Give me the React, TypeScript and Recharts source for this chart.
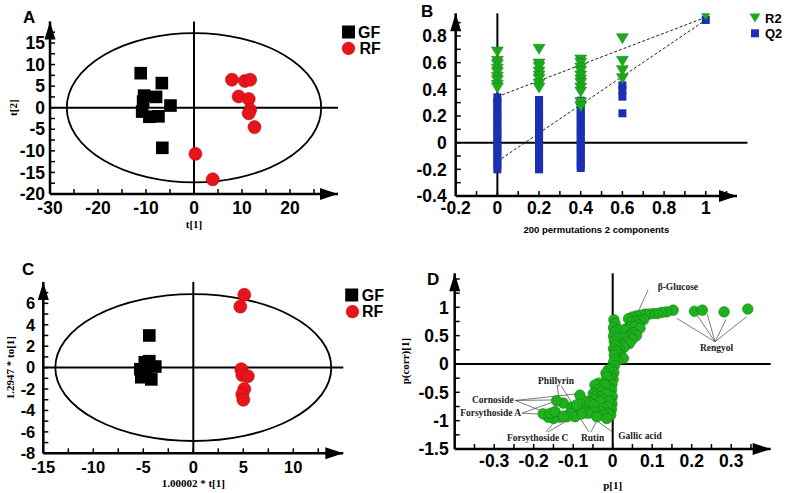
import React from "react";
import {
  ScatterChart,
  Scatter,
  XAxis,
  YAxis,
  ReferenceLine,
  ReferenceArea,
  ReferenceDot,
  Label
} from "recharts";

// ---- Panel A: PCA scores ----
const gfScoresA = [
  [-11.1, 8.0], [-6.7, 5.7], [-10.4, 2.8], [-7.9, 2.5], [-4.9, 0.5],
  [-10.6, 1.4], [-10.8, -0.9], [-9.3, -2.1], [-7.4, -2.0], [-6.6, -9.3]
];
const rfScoresA = [
  [7.9, 6.5], [10.6, 6.2], [11.7, 6.5], [9.3, 2.6], [11.4, 2.0],
  [11.7, -0.5], [11.4, -1.3], [12.6, -4.5], [0.3, -10.7], [3.9, -16.6]
];
const ellipseA = [26.5, 17.3];
const aTicksX = [-30, -25, -20, -15, -10, -5, 0, 5, 10, 15, 20, 25];
const aLabelsX = [-30, -20, -10, 0, 10, 20];
const aTicksY = [-20, -17.5, -15, -12.5, -10, -7.5, -5, -2.5, 0, 2.5, 5, 7.5, 10, 12.5, 15, 17.5];
const aLabelsY = [-20, -15, -10, -5, 0, 5, 10, 15];

// ---- Panel B: permutation test ----
const permX = [0, 0.2, 0.4, 0.6, 1];
const r2Perm = [
  [0.68, 0.61, 0.585, 0.55, 0.525, 0.49, 0.465, 0.43, 0.41],
  [0.7, 0.59, 0.565, 0.53, 0.5, 0.475, 0.44, 0.41],
  [0.62, 0.595, 0.56, 0.535, 0.5, 0.47, 0.445, 0.41, 0.38, 0.3, 0.27],
  [0.78, 0.61, 0.54, 0.48],
  [0.955]
];
const q2Perm = [
  [0.34, 0.31, 0.285, 0.25, 0.22, 0.19, 0.165, 0.13, 0.1, 0.07, 0.045, 0.01, -0.02, -0.05, -0.075, -0.11, -0.14, -0.17, -0.2],
  [0.32, 0.29, 0.265, 0.23, 0.2, 0.17, 0.145, 0.11, 0.08, 0.05, 0.025, -0.01, -0.04, -0.07, -0.095, -0.13, -0.16, -0.19, -0.2],
  [0.315, 0.29, 0.25, 0.22, 0.195, 0.16, 0.13, 0.1, 0.075, 0.04, 0.01, -0.02, -0.05, -0.075, -0.11, -0.14, -0.17, -0.19],
  [0.43, 0.395, 0.345, 0.22],
  [0.92]
];
const r2Fit = [[0, 0.345], [1, 0.94]];
const q2Fit = [[0, -0.14], [1, 0.92]];
const bTicksX = [-0.2, -0.1, 0, 0.1, 0.2, 0.3, 0.4, 0.5, 0.6, 0.7, 0.8, 0.9, 1, 1.1];
const bLabelsX = [-0.2, 0, 0.2, 0.4, 0.6, 0.8, 1];
const bTicksY = [-0.4, -0.3, -0.2, -0.1, 0, 0.1, 0.2, 0.3, 0.4, 0.5, 0.6, 0.7, 0.8, 0.9];
const bLabelsY = [-0.4, -0.2, 0, 0.2, 0.4, 0.6, 0.8];

// ---- Panel C: OPLS-DA scores ----
const gfScoresC = [
  [-4.4, 3.0], [-4.85, 0.5], [-4.4, 0.6], [-3.8, 0.1],
  [-5.3, -0.15], [-5.2, -0.9], [-4.2, -1.1], [-4.7, -0.4]
];
const rfScoresC = [
  [5.1, 6.8], [4.7, 5.7], [4.8, -0.15], [4.9, -0.7],
  [5.45, -0.8], [5.1, -2.0], [4.9, -2.5], [5.0, -3.0]
];
const ellipseC = [13.8, 6.85];
const cTicksX = [-15, -12.5, -10, -7.5, -5, -2.5, 0, 2.5, 5, 7.5, 10, 12.5];
const cLabelsX = [-15, -10, -5, 0, 5, 10];
const cTicksY = [-8, -7, -6, -5, -4, -3, -2, -1, 0, 1, 2, 3, 4, 5, 6, 7];
const cLabelsY = [-8, -6, -4, -2, 0, 2, 4, 6];

// ---- Panel D: S-plot ----
const sPlot = [
  [0.153, 0.95], [0.137, 0.92], [0.124, 0.91], [0.113, 0.89], [0.103, 0.89], [0.092, 0.88],
  [0.082, 0.88], [0.07, 0.86], [0.061, 0.85], [0.05, 0.83], [0.04, 0.8], [0.078, 0.78],
  [0.068, 0.76], [0.058, 0.74], [0.046, 0.73], [0.065, 0.69], [0.044, 0.66], [0.056, 0.66],
  [0.069, 0.63], [0.034, 0.62], [0.027, 0.6], [0.052, 0.55], [0.06, 0.5], [0.044, 0.51],
  [0.04, 0.48], [0.031, 0.45], [0.05, 0.44], [0.035, 0.39], [0.042, 0.36], [0.023, 0.34],
  [0.028, 0.29], [0.016, 0.26], [0.014, 0.2], [0.02, 0.15], [0.027, 0.1], [0.012, 0.06],
  [0.207, 0.93], [0.227, 0.95], [0.282, 0.92], [0.342, 0.97],
  [0.003, 0.78], [0.006, 0.71], [0.002, 0.64], [0.011, 0.6], [0.005, 0.56], [0.002, 0.49],
  [0.009, 0.45], [0.004, 0.4], [0.007, 0.33], [0.002, 0.27], [0.008, 0.22], [0.004, 0.16],
  [0.006, 0.09], [0.002, 0.03], [0.004, -0.03], [-0.002, -0.09], [0.003, -0.15], [-0.004, -0.21],
  [0.001, -0.27], [-0.006, -0.3], [-0.002, -0.36], [-0.007, -0.42], [-0.003, -0.46], [-0.005, -0.54],
  [-0.001, -0.58], [-0.006, -0.64], [-0.002, -0.7], [-0.007, -0.76], [-0.003, -0.8], [-0.008, -0.86],
  [-0.005, -0.9],
  [-0.011, -0.1], [-0.017, -0.16], [-0.015, -0.22], [-0.02, -0.34], [-0.036, -0.34], [-0.02, -0.37],
  [-0.045, -0.37], [-0.036, -0.45], [-0.028, -0.49], [-0.049, -0.52], [-0.015, -0.52], [-0.032, -0.58],
  [-0.047, -0.58], [-0.045, -0.63], [-0.024, -0.63], [-0.011, -0.66], [-0.032, -0.66], [-0.066, -0.66],
  [-0.057, -0.69], [-0.049, -0.72], [-0.015, -0.75], [-0.024, -0.78], [-0.074, -0.81], [-0.095, -0.81],
  [-0.028, -0.84], [-0.049, -0.84], [-0.078, -0.84], [-0.012, -0.87], [-0.024, -0.9], [-0.062, -0.87],
  [-0.04, -0.93], [-0.015, -0.96], [-0.083, -0.55], [-0.104, -0.76], [-0.091, -0.72], [-0.108, -0.87],
  [-0.095, -0.93], [-0.116, -0.93], [-0.125, -0.69], [-0.142, -0.65], [-0.133, -0.94], [-0.15, -0.96],
  [-0.163, -0.94], [-0.176, -0.88], [-0.158, -0.87], [-0.146, -0.84], [-0.125, -0.92], [-0.078, -0.88]
];
const dLabels = [
  { text: "β-Glucose", x: 0.165, y: 1.364 },
  { text: "Rengyol", x: 0.263, y: 0.277 },
  { text: "Phillyrin", x: -0.1435, y: -0.3 },
  { text: "Cornoside", x: -0.3035, y: -0.635 },
  { text: "Forsythoside A", x: -0.309, y: -0.87 },
  { text: "Forsythoside C", x: -0.19, y: -1.31 },
  { text: "Rutin", x: -0.051, y: -1.31 },
  { text: "Gallic acid", x: 0.069, y: -1.27 }
];
// leader lines: x1, y1, x2, y2
const dLeaders = [
  [0.0894, 1.306, 0.0666, 0.953],
  [0.259, 0.393, 0.162, 0.806],
  [0.259, 0.393, 0.215, 0.847],
  [0.259, 0.393, 0.2395, 0.877],
  [0.259, 0.393, 0.287, 0.789],
  [0.259, 0.393, 0.339, 0.834],
  [-0.247, -0.644, -0.093, -0.529],
  [-0.247, -0.644, -0.151, -0.635],
  [-0.247, -0.644, -0.166, -0.865],
  [-0.2296, -0.868, -0.151, -0.67],
  [-0.2296, -0.868, -0.189, -0.882],
  [-0.1405, -0.388, -0.1355, -0.635],
  [-0.1305, -0.388, -0.098, -0.741],
  [-0.169, -1.2, -0.1435, -0.988],
  [-0.164, -1.2, -0.108, -0.97],
  [-0.06, -1.2, -0.083, -0.953],
  [-0.055, -1.2, -0.037, -0.953],
  [0.003, -1.217, -0.09, -0.759]
];
const dTicksX = [-0.35, -0.3, -0.25, -0.2, -0.15, -0.1, -0.05, 0, 0.05, 0.1, 0.15, 0.2, 0.25, 0.3, 0.35];
const dLabelsX = [-0.3, -0.2, -0.1, 0, 0.1, 0.2, 0.3];
const dTicksY = [-1.5, -1.25, -1, -0.75, -0.5, -0.25, 0, 0.25, 0.5, 0.75, 1, 1.25, 1.5];
const dLabelsY = [-1.5, -1, -0.5, 0, 0.5, 1];

const SANS = "'Liberation Sans', Arial, Helvetica, sans-serif";
const SERIF = "'Liberation Serif', 'Times New Roman', serif";

const tickStyle = { fontSize: 17.5, fontWeight: 700, fill: "#000", fontFamily: SANS };
const tickStyleC = { ...tickStyle, fontSize: 16.5 };
const axisLineStyle = { stroke: "#000", strokeWidth: 2.5 };
const tickLineStyle = { stroke: "#000", strokeWidth: 1.5 };
const titleStyle = { fontSize: 11, fontWeight: 700, fill: "#000", fontFamily: SERIF };

const toXY = (pts: number[][]) => pts.map(([x, y]) => ({ x, y }));
const labelOnly = (labels: number[]) => (v: number) => (labels.includes(v) ? String(v) : "");

const ellipseShape = (p: any) => (
  <ellipse
    cx={p.x + p.width / 2}
    cy={p.y + p.height / 2}
    rx={Math.abs(p.width) / 2}
    ry={Math.abs(p.height) / 2}
    fill="none"
    stroke="#000"
    strokeWidth={1.8}
  />
);
const arrowRight = (p: any) => (
  <polygon points={`${p.cx},${p.cy} ${p.cx - 18},${p.cy - 6} ${p.cx - 18},${p.cy + 6}`} fill="#000" />
);
const arrowUp = (p: any) => (
  <polygon points={`${p.cx},${p.cy} ${p.cx - 5.5},${p.cy + 18} ${p.cx + 5.5},${p.cy + 18}`} fill="#000" />
);
const blackSquare = (p: any) => <rect x={p.cx - 6.3} y={p.cy - 6.3} width={12.6} height={12.6} fill="#000" />;
const redCircle = (p: any) => <circle cx={p.cx} cy={p.cy} r={6.5} fill="#e8141b" stroke="#b30c0c" strokeWidth={0.6} />;
const blueSquare = (p: any) => <rect x={p.cx - 4} y={p.cy - 4} width={8} height={8} fill="#1a2fb4" />;
const greenTriangle = (p: any) => (
  <polygon
    points={`${p.cx - 6},${p.cy - 5} ${p.cx + 6},${p.cy - 5} ${p.cx},${p.cy + 5}`}
    fill="#1ea81e"
    stroke="#158a15"
    strokeWidth={0.5}
  />
);
const greenBall = (p: any) => <circle cx={p.cx} cy={p.cy} r={5.3} fill="#1fb01f" stroke="#0f850f" strokeWidth={0.6} />;
const annotation = (text: string) => (p: any) => (
  <text
    x={p.cx}
    y={p.cy}
    textAnchor="middle"
    dominantBaseline="central"
    fontFamily={SERIF}
    fontWeight={700}
    fontSize={9.5}
    fill="#222"
  >
    {text}
  </text>
);

const axisCommon = {
  type: "number" as const,
  allowDataOverflow: true,
  interval: 0 as const,
  tick: tickStyle,
  tickSize: -5,
  axisLine: axisLineStyle,
  tickLine: tickLineStyle
};

const PanelA = () => (
  <div style={{ position: "absolute", left: 0, top: 0 }}>
    <ScatterChart width={390} height={240} margin={{ top: 21.4, right: 52, bottom: 0, left: 0 }}>
      <XAxis {...axisCommon} dataKey="x" domain={[-30, 30]} ticks={aTicksX} tickFormatter={labelOnly(aLabelsX)} tickMargin={12.7} height={46}>
        <Label value="t[1]" position="insideBottom" offset={12} style={titleStyle} />
      </XAxis>
      <YAxis {...axisCommon} dataKey="y" domain={[-20, 20]} ticks={aTicksY} tickFormatter={labelOnly(aLabelsY)} tickMargin={10} width={50}>
        <Label value="t[2]" angle={-90} position="insideLeft" offset={13} style={{ ...titleStyle, textAnchor: "middle" }} />
      </YAxis>
      <ReferenceArea x1={-ellipseA[0]} x2={ellipseA[0]} y1={-ellipseA[1]} y2={ellipseA[1]} shape={ellipseShape} ifOverflow="visible" />
      <ReferenceLine y={0} stroke="#000" strokeWidth={2} />
      <ReferenceLine x={0} stroke="#000" strokeWidth={2} />
      <ReferenceDot x={30} y={-20} r={1} shape={arrowRight} ifOverflow="visible" />
      <ReferenceDot x={-30} y={20} r={1} shape={arrowUp} ifOverflow="visible" />
      <Scatter data={toXY(gfScoresA)} shape={blackSquare} isAnimationActive={false} />
      <Scatter data={toXY(rfScoresA)} shape={redCircle} isAnimationActive={false} />
    </ScatterChart>
  </div>
);

const PanelB = () => {
  const r2 = permX.flatMap((x, i) => r2Perm[i].map((y) => ({ x, y })));
  const q2 = permX.flatMap((x, i) => q2Perm[i].map((y) => ({ x, y })));
  return (
    <div style={{ position: "absolute", left: 390, top: 0 }}>
      <ScatterChart width={395} height={240} margin={{ top: 13.3, right: 48, bottom: 0, left: 0 }}>
        <XAxis {...axisCommon} dataKey="x" domain={[-0.2, 1.15]} ticks={bTicksX} tickFormatter={labelOnly(bLabelsX)} tickMargin={10.7} height={44}>
          <Label value="200 permutations 2 components" position="insideBottom" offset={7} style={{ ...titleStyle, fontFamily: SANS, fontSize: 9.5 }} />
        </XAxis>
        <YAxis {...axisCommon} dataKey="y" domain={[-0.4, 0.97]} ticks={bTicksY} tickFormatter={labelOnly(bLabelsY)} tickMargin={14} width={65.7} />
        <ReferenceLine segment={[{ x: -0.2, y: 0 }, { x: 1.2, y: 0 }]} stroke="#000" strokeWidth={2} ifOverflow="visible" />
        <ReferenceLine x={0} stroke="#000" strokeWidth={2} />
        <ReferenceDot x={1.15} y={-0.4} r={1} shape={arrowRight} ifOverflow="visible" />
        <ReferenceDot x={-0.2} y={0.97} r={1} shape={arrowUp} ifOverflow="visible" />
        <Scatter data={q2} shape={blueSquare} isAnimationActive={false} />
        <Scatter data={r2} shape={greenTriangle} isAnimationActive={false} />
        <ReferenceLine segment={[{ x: r2Fit[0][0], y: r2Fit[0][1] }, { x: r2Fit[1][0], y: r2Fit[1][1] }]} stroke="#222" strokeWidth={1} strokeDasharray="3 2" />
        <ReferenceLine segment={[{ x: q2Fit[0][0], y: q2Fit[0][1] }, { x: q2Fit[1][0], y: q2Fit[1][1] }]} stroke="#222" strokeWidth={1} strokeDasharray="3 2" />
      </ScatterChart>
    </div>
  );
};

const PanelC = () => (
  <div style={{ position: "absolute", left: 0, top: 250 }}>
    <ScatterChart width={390} height={243} margin={{ top: 31.9, right: 46.7, bottom: 0, left: 0 }}>
      <XAxis {...axisCommon} tick={tickStyleC} dataKey="x" domain={[-15, 15]} ticks={cTicksX} tickFormatter={labelOnly(cLabelsX)} tickMargin={13} height={39.7}>
        <Label value="1.00002 * t[1]" position="insideBottom" offset={6} style={titleStyle} />
      </XAxis>
      <YAxis {...axisCommon} tick={tickStyleC} dataKey="y" domain={[-8, 8]} ticks={cTicksY} tickFormatter={labelOnly(cLabelsY)} tickMargin={13} width={43.3}>
        <Label value="1.2947 * to[1]" angle={-90} position="insideLeft" offset={10} style={{ ...titleStyle, textAnchor: "middle" }} />
      </YAxis>
      <ReferenceArea x1={-ellipseC[0]} x2={ellipseC[0]} y1={-ellipseC[1]} y2={ellipseC[1]} shape={ellipseShape} ifOverflow="visible" />
      <ReferenceLine y={0} stroke="#000" strokeWidth={2} />
      <ReferenceLine x={0} stroke="#000" strokeWidth={2} />
      <ReferenceDot x={15} y={-8} r={1} shape={arrowRight} ifOverflow="visible" />
      <ReferenceDot x={-15} y={8} r={1} shape={arrowUp} ifOverflow="visible" />
      <Scatter data={toXY(gfScoresC)} shape={blackSquare} isAnimationActive={false} />
      <Scatter data={toXY(rfScoresC)} shape={redCircle} isAnimationActive={false} />
    </ScatterChart>
  </div>
);

const PanelD = () => (
  <div style={{ position: "absolute", left: 390, top: 250 }}>
    <ScatterChart width={395} height={243} margin={{ top: 23.3, right: 14.3, bottom: 0, left: 0 }}>
      <XAxis {...axisCommon} dataKey="x" domain={[-0.4, 0.4]} ticks={dTicksX} tickFormatter={labelOnly(dLabelsX)} tickMargin={11} height={44}>
        <Label value="p[1]" position="insideBottom" offset={4} style={titleStyle} />
      </XAxis>
      <YAxis {...axisCommon} dataKey="y" domain={[-1.5, 1.6]} ticks={dTicksY} tickFormatter={labelOnly(dLabelsY)} tickMargin={11} width={64.7}>
        <Label value="p(corr)[1]" angle={-90} position="insideLeft" offset={15} style={{ ...titleStyle, textAnchor: "middle" }} />
      </YAxis>
      <ReferenceLine y={0} stroke="#000" strokeWidth={2} />
      <ReferenceLine x={0} stroke="#000" strokeWidth={2} />
      <ReferenceDot x={0.4} y={-1.5} r={1} shape={arrowRight} ifOverflow="visible" />
      <ReferenceDot x={-0.4} y={1.6} r={1} shape={arrowUp} ifOverflow="visible" />
      {dLeaders.map((s, i) => (
        <ReferenceLine key={`lead-${i}`} segment={[{ x: s[0], y: s[1] }, { x: s[2], y: s[3] }]} stroke="#444" strokeWidth={0.7} ifOverflow="visible" />
      ))}
      <Scatter data={toXY(sPlot)} shape={greenBall} isAnimationActive={false} />
      {dLabels.map((l) => (
        <ReferenceDot key={l.text} x={l.x} y={l.y} r={1} shape={annotation(l.text)} ifOverflow="visible" />
      ))}
    </ScatterChart>
  </div>
);

// panel letters and legends
const Overlay = () => (
  <svg width={785} height={493} style={{ position: "absolute", left: 0, top: 0, pointerEvents: "none" }}>
    <g fontFamily={SANS} fontWeight={700} fill="#000">
      <text x={23} y={23} fontSize={17}>A</text>
      <text x={421} y={16.5} fontSize={17}>B</text>
      <text x={22} y={275} fontSize={17}>C</text>
      <text x={427} y={285} fontSize={17}>D</text>

      <rect x={342} y={25.5} width={13} height={13} fill="#000" />
      <text x={358} y={37.5} fontSize={16}>GF</text>
      <circle cx={348.5} cy={48.3} r={6.6} fill="#e8141b" />
      <text x={359.5} y={54} fontSize={16}>RF</text>

      <polygon points="749.5,13.5 760.5,13.5 755,22.5" fill="#1ea81e" />
      <text x={765} y={22.8} fontSize={13}>R2</text>
      <rect x={751} y={29.3} width={8} height={8} fill="#1a2fb4" />
      <text x={765} y={38} fontSize={13}>Q2</text>

      <rect x={345.2} y={288.5} width={13} height={13} fill="#000" />
      <text x={361.7} y={300.7} fontSize={16}>GF</text>
      <circle cx={352.5} cy={311.7} r={6.6} fill="#e8141b" />
      <text x={362} y={317.4} fontSize={16}>RF</text>
    </g>
  </svg>
);

export default function App() {
  return (
    <div style={{ position: "absolute", left: 0, top: 0, width: 785, height: 493, background: "#fff", overflow: "hidden" }}>
      <PanelA />
      <PanelB />
      <PanelC />
      <PanelD />
      <Overlay />
    </div>
  );
}
